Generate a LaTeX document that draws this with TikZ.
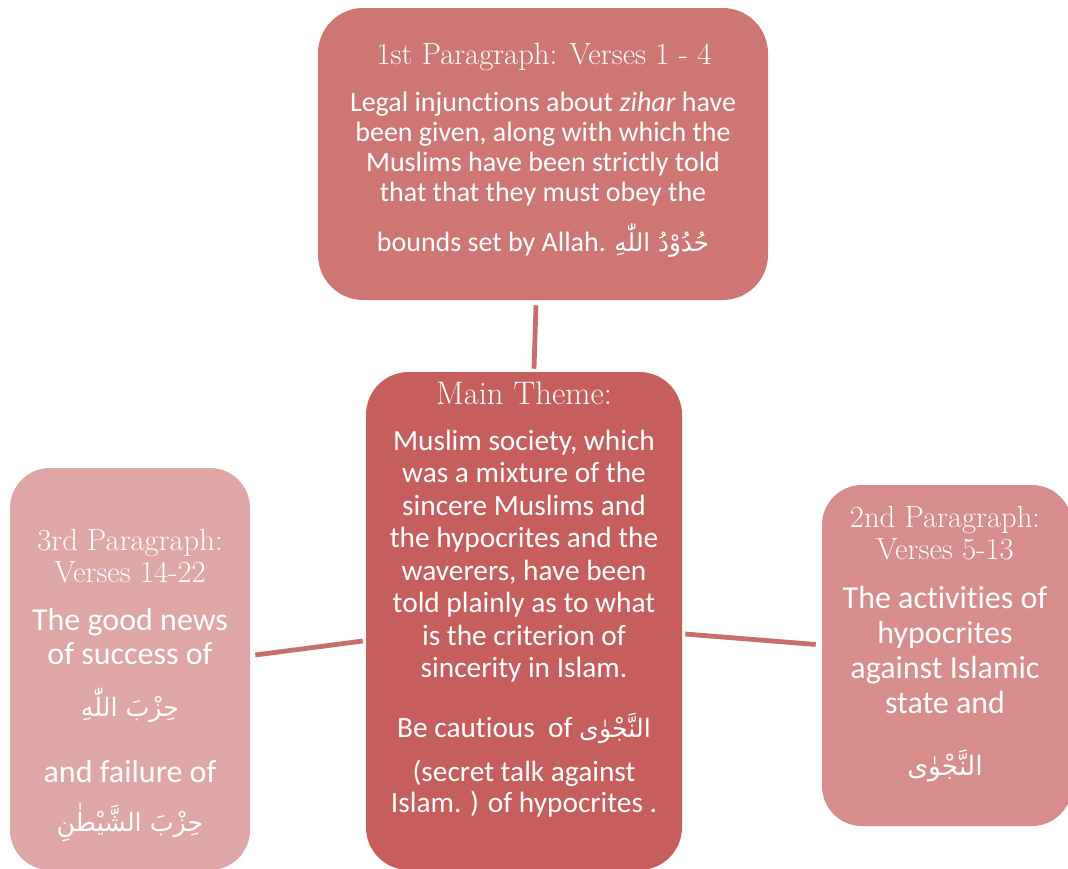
\documentclass[tikz,border=0pt]{standalone}
\usepackage{fontspec}
\usetikzlibrary{calc}
\TeXXeTstate=1
\newfontfamily\bodyfont[Ligatures={NoCommon}]{Carlito}
\newfontfamily\arabicfont[Script=Arabic]{DejaVu Sans}
\definecolor{topc}{HTML}{CD7674}
\definecolor{cenc}{HTML}{C65E5E}
\definecolor{leftc}{HTML}{DFA6A6}
\definecolor{rightc}{HTML}{D68D8C}
\definecolor{linkc}{HTML}{C86E6E}
\tikzset{
  box/.style={draw=none, inner sep=0pt},
  ttl/.style={text=white, font=\fontsize{#1}{#1}\selectfont, inner sep=0pt, anchor=base},
  bdy/.style={text=white, font=\bodyfont\fontsize{#1}{#1}\selectfont, inner sep=0pt, anchor=base},
  ar/.style={text=white, font=\arabicfont\fontsize{#1}{#1}\selectfont, inner sep=0pt, anchor=base},
  link/.style={draw=linkc, line width=3.6pt}
}
\begin{document}
\begin{tikzpicture}[x=0.75pt,y=-0.75pt]
\useasboundingbox (0,0) rectangle (1068,868);
% boxes
\fill[topc, rounded corners=34pt] (318,8) rectangle (768,300);
\node[box, minimum width=337.5pt, minimum height=219pt] (top) at (543,154) {};
\fill[cenc, rounded corners=32pt] (366,372) rectangle (682,870);
\node[box, minimum width=237pt, minimum height=373.5pt] (cen) at (524,621) {};
\fill[leftc, rounded corners=30pt] (10,468) rectangle (250,870);
\node[box, minimum width=180pt, minimum height=301.5pt] (lft) at (130,669) {};
\fill[rightc, rounded corners=30pt] (822,485) rectangle (1072,826);
\node[box, minimum width=187.5pt, minimum height=255.75pt] (rgt) at (947,655.5) {};
% connectors
\draw[link] ($(top.south)+(-7,5)$) -- ($(cen.north)+(10,-3)$);
\draw[link] ($(lft.east)+(5,-14)$) -- ($(cen.west)+(-3,20)$);
\draw[link] ($(cen.east)+(3,13)$) -- ($(rgt.west)+(-6,-11)$);
% top text
\node[ttl=23] (t0) at (544,64) {1st Paragraph: Verses 1 - 4};
\node[bdy=21] (t1) at (543,111) {Legal injunctions about \textit{zihar} have};
\node[bdy=21] (t2) at (543,141) {been given, along with which the};
\node[bdy=21] (t3) at (543,171) {Muslims have been strictly told};
\node[bdy=21] (t4) at (543,201) {that that they must obey the};
\node[bdy=21] (t5) at (543,251) {bounds set by Allah. {\arabicfont\fontsize{18.5}{18.5}\selectfont\beginR حُدُوْدُ اللّٰهِ\endR}};
% center text
\node[ttl=24.5] (c0) at (524,404) {Main Theme:};
\node[bdy=22] (c1) at (524,450) {Muslim society, which};
\node[bdy=22] (c2) at (524,482) {was a mixture of the};
\node[bdy=22] (c3) at (524,515) {sincere Muslims and};
\node[bdy=22] (c4) at (524,547) {the hypocrites and the};
\node[bdy=22] (c5) at (524,580) {waverers, have been};
\node[bdy=22] (c6) at (524,612) {told plainly as to what};
\node[bdy=22] (c7) at (524,645) {is the criterion of};
\node[bdy=22] (c8) at (524,677) {sincerity in Islam.};
\node[bdy=22] (c9) at (524,737) {Be cautious\ \ of {\arabicfont\fontsize{19}{19}\selectfont\beginR النَّجْوٰى\endR}};
\node[bdy=22] (c10) at (524,781) {(secret talk against};
\node[bdy=22] (c11) at (524,812) {Islam. ) of hypocrites .};
% left text
\node[ttl=23] (l0) at (130,550) {3rd Paragraph:};
\node[ttl=23] (l1) at (130,582) {Verses 14-22};
\node[bdy=24] (l2) at (130,630) {The good news};
\node[bdy=24] (l3) at (130,664) {of success of};
\node[ar=19] (l4) at (130,716) {\beginR حِزْبَ اللّٰهِ\endR};
\node[bdy=24] (l5) at (130,782) {and failure of};
\node[ar=19] (l6) at (130,831) {\beginR حِزْبَ الشَّيْطٰنِ\endR};
% right text
\node[ttl=23] (r0) at (945,527) {2nd Paragraph:};
\node[ttl=23] (r1) at (945,559) {Verses 5-13};
\node[bdy=24] (r2) at (945,608) {The activities of};
\node[bdy=24] (r3) at (945,643) {hypocrites};
\node[bdy=24] (r4) at (945,678) {against Islamic};
\node[bdy=24] (r5) at (945,713) {state and};
\node[ar=20] (r6) at (945,775) {\beginR النَّجْوٰى\endR};
\end{tikzpicture}
\end{document}
